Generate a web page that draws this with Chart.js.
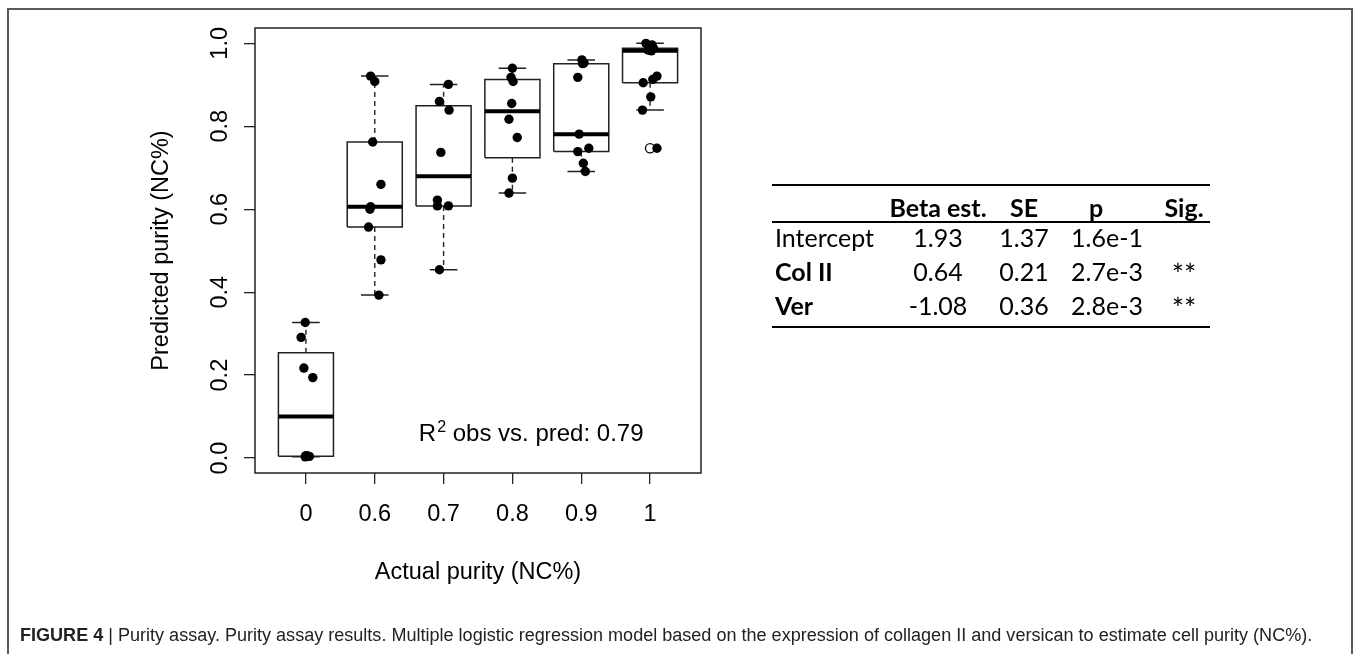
<!DOCTYPE html>
<html>
<head>
<meta charset="utf-8">
<script src="https://cdn.jsdelivr.net/npm/chart.js@4.4.0/dist/chart.umd.min.js"></script>
<style>
html,body{margin:0;padding:0;background:#fff;}
body{width:1357px;height:654px;position:relative;overflow:hidden;}
#frame{position:absolute;left:7px;top:8px;width:1346px;height:720px;border:2px solid #5a5a5a;box-sizing:border-box;}
#chart{position:absolute;left:0;top:0;}
.rule{position:absolute;left:772px;width:438px;height:2px;background:#000;}
.cell{position:absolute;white-space:nowrap;font-family:Lato,sans-serif;font-size:25px;line-height:30px;color:#000;}
.c{transform:translateX(-50%);}
.b{font-weight:bold;}
.sig{font-size:29px;}
#caption{position:absolute;left:20px;top:625px;font-family:"Liberation Sans",Arial,sans-serif;font-size:16px;white-space:nowrap;color:#222;line-height:1.15;}
</style>
</head>
<body>
<div id="frame"></div>
<canvas id="chart" width="1357" height="654"></canvas>
<div id="table"></div>
<div id="caption"></div>
<script>
// ---------- data ----------
const categories = ['0', '0.6', '0.7', '0.8', '0.9', '1'];
const xTickValues = [1, 2, 3, 4, 5, 6];
const yTickValues = [0, 0.2, 0.4, 0.6, 0.8, 1.0];
const yTickLabels = ['0.0', '0.2', '0.4', '0.6', '0.8', '1.0'];

// predicted purity of each sample, per actual-purity group
const pred0  = [0.327, 0.291, 0.217, 0.194, 0.003, 0.005, 0.004, 0.006];
const pred06 = [0.921, 0.908, 0.762, 0.660, 0.600, 0.606, 0.557, 0.478, 0.393];
const pred07 = [0.901, 0.860, 0.839, 0.737, 0.622, 0.608, 0.608, 0.454];
const pred08 = [0.940, 0.918, 0.908, 0.855, 0.817, 0.773, 0.675, 0.639];
const pred09 = [0.960, 0.953, 0.951, 0.918, 0.781, 0.747, 0.739, 0.711, 0.691];
const pred1  = [1.000, 0.996, 0.992, 0.988, 0.986, 0.984, 0.982, 0.921, 0.913, 0.905, 0.871, 0.839, 0.747];

// horizontal jitter of each dot (category units)
const jit0  = [-0.01, -0.07, -0.03, 0.10, -0.01, 0.02, 0.05, 0.00];
const jit06 = [-0.06, 0.00, -0.03, 0.09, -0.07, -0.06, -0.09, 0.09, 0.06];
const jit07 = [0.07, -0.06, 0.08, -0.04, -0.09, -0.09, 0.07, -0.06];
const jit08 = [0.00, -0.02, 0.01, -0.01, -0.05, 0.07, 0.00, -0.05];
const jit09 = [0.01, 0.04, 0.02, -0.05, -0.03, 0.11, -0.05, 0.03, 0.06];
const jit1  = [-0.06, 0.03, -0.02, 0.05, 0.00, -0.03, 0.02, 0.10, 0.04, -0.10, 0.01, -0.11, 0.10];

const r2Text = ' obs vs. pred: 0.79';

// regression table
const tableHeader   = ['Beta est.', 'SE', 'p', 'Sig.'];
const tableRowNames = ['Intercept', 'Col II', 'Ver'];
const betaEst = ['1.93', '0.64', '-1.08'];
const seVals  = ['1.37', '0.21', '0.36'];
const pVals   = ['1.6e-1', '2.7e-3', '2.8e-3'];
const sigVals = ['', '**', '**'];
const rowNameBold = [false, true, true];

const captionBold = 'FIGURE 4';
const captionText = ' | Purity assay. Purity assay results. Multiple logistic regression model based on the expression of collagen II and versican to estimate cell purity (NC%).';

// ---------- boxplot statistics (Tukey hinges, 1.5 IQR whiskers as in R) ----------
const groups = [pred0, pred06, pred07, pred08, pred09, pred1];
const jitters = [jit0, jit06, jit07, jit08, jit09, jit1];

function fivenum(arr) {
  const x = arr.slice().sort((a, b) => a - b);
  const n = x.length;
  const n4 = Math.floor((n + 3) / 2) / 2;
  const d = [1, n4, (n + 1) / 2, n + 1 - n4, n];
  return d.map(v => 0.5 * (x[Math.floor(v) - 1] + x[Math.ceil(v) - 1]));
}
function boxStats(arr) {
  const f = fivenum(arr);
  const iqr = f[3] - f[1];
  const lo = f[1] - 1.5 * iqr, hi = f[3] + 1.5 * iqr;
  const inside = arr.filter(v => v >= lo && v <= hi);
  const out = arr.filter(v => v < lo || v > hi);
  return { q1: f[1], med: f[2], q3: f[3], wlo: Math.min(...inside), whi: Math.max(...inside), out };
}
const stats = groups.map(boxStats);

const HW = 0.4;   // half box width (category units)
const CAP = 0.2;  // half staple width
const GAP = { x: null, y: null };

const boxData = [], medData = [], whiskData = [], capData = [], outData = [], dotData = [];
stats.forEach((s, i) => {
  const c = xTickValues[i];
  boxData.push({x: c - HW, y: s.q1}, {x: c + HW, y: s.q1}, {x: c + HW, y: s.q3}, {x: c - HW, y: s.q3}, {x: c - HW, y: s.q1}, GAP);
  medData.push({x: c - HW, y: s.med}, {x: c + HW, y: s.med}, GAP);
  whiskData.push({x: c, y: s.q3}, {x: c, y: s.whi}, GAP, {x: c, y: s.q1}, {x: c, y: s.wlo}, GAP);
  capData.push({x: c - CAP, y: s.whi}, {x: c + CAP, y: s.whi}, GAP, {x: c - CAP, y: s.wlo}, {x: c + CAP, y: s.wlo}, GAP);
  s.out.forEach(v => outData.push({x: c, y: v}));
  groups[i].forEach((v, k) => dotData.push({x: c + jitters[i][k], y: v}));
});

const FONT = '"Liberation Sans", Arial, sans-serif';

const overlay = {
  id: 'overlay',
  afterDraw(chart) {
    const {ctx, chartArea: a, scales: {x, y}} = chart;
    ctx.save();
    ctx.strokeStyle = '#222';
    ctx.lineWidth = 1.5;
    ctx.strokeRect(a.left, a.top, a.right - a.left, a.bottom - a.top);
    // rotated y tick labels (R style, parallel to axis)
    ctx.fillStyle = '#000';
    ctx.font = '23.5px ' + FONT;
    ctx.textAlign = 'center';
    ctx.textBaseline = 'alphabetic';
    yTickValues.forEach((v, i) => {
      ctx.save();
      ctx.translate(a.left - 28.5, y.getPixelForValue(v));
      ctx.rotate(-Math.PI / 2);
      ctx.fillText(yTickLabels[i], 0, 0);
      ctx.restore();
    });
    // R^2 annotation, right-aligned in data space
    const px = x.getPixelForValue(5.89), py = y.getPixelForValue(0.04);
    ctx.textAlign = 'left';
    ctx.font = '24px ' + FONT;
    const wR = ctx.measureText('R').width;
    const wT = ctx.measureText(r2Text).width;
    ctx.font = '16px ' + FONT;
    const w2 = ctx.measureText('2').width;
    let sx = px - (wR + w2 + wT);
    ctx.font = '24px ' + FONT;
    ctx.fillText('R', sx, py);
    ctx.font = '16px ' + FONT;
    ctx.fillText('2', sx + wR + 1, py - 9);
    ctx.font = '24px ' + FONT;
    ctx.fillText(r2Text, sx + wR + w2 + 1, py);
    ctx.restore();
  }
};

new Chart(document.getElementById('chart'), {
  type: 'scatter',
  data: {
    datasets: [
      { label: 'samples', data: dotData, order: 0, pointRadius: 4.7, pointHoverRadius: 4.7,
        backgroundColor: '#000', borderWidth: 0 },
      { label: 'outliers', data: outData, order: 1, pointRadius: 4.6, pointHoverRadius: 4.6,
        backgroundColor: 'rgba(0,0,0,0)', borderColor: '#000', borderWidth: 1.3 },
      { label: 'median', data: medData, order: 2, showLine: true, pointRadius: 0,
        borderColor: '#000', borderWidth: 4, borderCapStyle: 'butt' },
      { label: 'box', data: boxData, order: 3, showLine: true, pointRadius: 0,
        borderColor: '#222', borderWidth: 1.5, borderJoinStyle: 'miter' },
      { label: 'whisker', data: whiskData, order: 4, showLine: true, pointRadius: 0,
        borderColor: '#222', borderWidth: 1.4, borderDash: [5, 4] },
      { label: 'staple', data: capData, order: 5, showLine: true, pointRadius: 0,
        borderColor: '#222', borderWidth: 1.5 }
    ]
  },
  options: {
    responsive: false,
    animation: false,
    events: [],
    layout: { padding: { left: 0, top: 28, right: 656, bottom: 0 } },
    plugins: { legend: { display: false }, tooltip: { enabled: false } },
    scales: {
      x: {
        type: 'linear', min: 0.26, max: 6.74,
        afterBuildTicks: s => { s.ticks = xTickValues.map(v => ({ value: v })); },
        afterFit: s => { s.height = 181; },
        ticks: { callback: (v, i) => categories[i], autoSkip: false, maxRotation: 0,
                 font: { family: FONT, size: 23.5 }, color: '#000', padding: 16 },
        grid: { drawOnChartArea: false, drawTicks: true, tickLength: 11, color: '#222', lineWidth: 1.3 },
        border: { display: false },
        title: { display: true, text: 'Actual purity (NC%)', color: '#000',
                 font: { family: FONT, size: 23.5 }, padding: { top: 0, bottom: 67 } }
      },
      y: {
        type: 'linear', min: -0.036, max: 1.037,
        afterBuildTicks: s => { s.ticks = yTickValues.map(v => ({ value: v })); },
        afterFit: s => { s.width = 255; },
        ticks: { display: false },
        grid: { drawOnChartArea: false, drawTicks: true, tickLength: 11, color: '#222', lineWidth: 1.3 },
        border: { display: false },
        title: { display: true, text: 'Predicted purity (NC%)', color: '#000',
                 font: { family: FONT, size: 23.5 }, padding: { top: 147, bottom: 0 } }
      }
    }
  },
  plugins: [overlay]
});

// ---------- table ----------
const tbl = document.getElementById('table');
function rule(top) { const d = document.createElement('div'); d.className = 'rule'; d.style.top = top + 'px'; tbl.appendChild(d); }
function cell(text, left, top, cls, centered) {
  const d = document.createElement('div');
  d.className = 'cell' + (cls ? ' ' + cls : '') + (centered ? ' c' : '');
  d.textContent = text;
  d.style.left = left + 'px';
  d.style.top = top + 'px';
  tbl.appendChild(d);
}
rule(184); rule(221); rule(326);
const headerCenters = [938, 1024, 1096, 1184];
const valueCenters = [938, 1024, 1107, 1184];
tableHeader.forEach((h, j) => cell(h, headerCenters[j], 192, 'b', true));
const rowTops = [222, 256, 290];
tableRowNames.forEach((name, r) => {
  cell(name, 775, rowTops[r], rowNameBold[r] ? 'b' : '', false);
  cell(betaEst[r], valueCenters[0], rowTops[r], '', true);
  cell(seVals[r], valueCenters[1], rowTops[r], '', true);
  cell(pVals[r], valueCenters[2], rowTops[r], '', true);
  cell(sigVals[r], valueCenters[3], rowTops[r] + 3, 'sig', true);
});

// ---------- caption ----------
const cap = document.getElementById('caption');
const bEl = document.createElement('b'); bEl.textContent = captionBold;
cap.appendChild(bEl);
cap.appendChild(document.createTextNode(captionText));
const w = cap.getBoundingClientRect().width;
cap.style.fontSize = (16 * 1293 / w).toFixed(2) + 'px';
</script>
</body>
</html>
